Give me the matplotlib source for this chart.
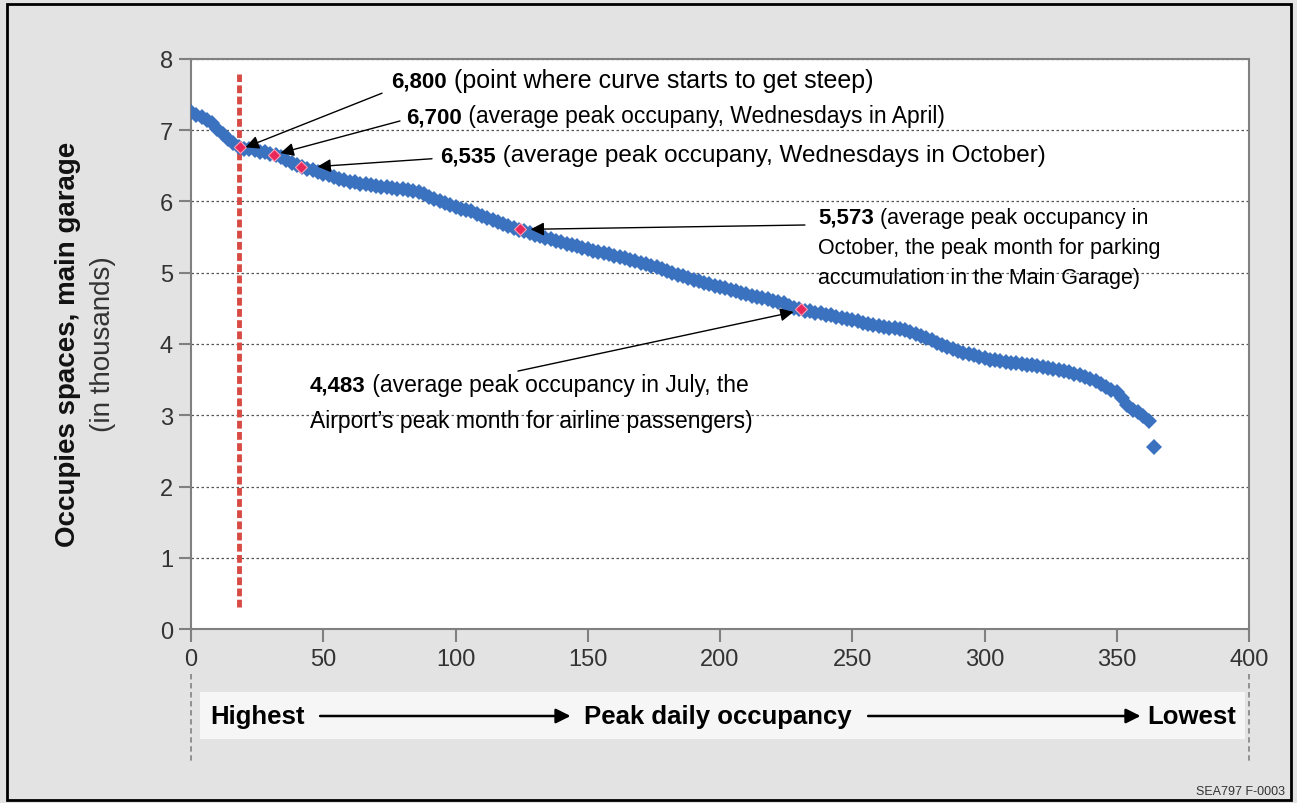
import matplotlib
matplotlib.use("Agg")
import matplotlib.pyplot as plt
import matplotlib.transforms as mtransforms
import numpy as np
from matplotlib.patches import Rectangle

plt.rcParams["font.family"] = ["Liberation Sans", "DejaVu Sans"]

# Peak daily occupancy (thousands), days sorted highest -> lowest, read every 2nd day
DAY_STEP = 2
OCCUPANCY = [
    7.26, 7.21, 7.18, 7.15, 7.10, 7.02, 6.95, 6.88, 6.82, 6.77,
    6.74, 6.73, 6.72, 6.70, 6.69, 6.67, 6.65, 6.62, 6.58, 6.54,
    6.51, 6.48, 6.46, 6.44, 6.41, 6.39, 6.37, 6.34, 6.32, 6.30,
    6.28, 6.27, 6.25, 6.24, 6.23, 6.22, 6.21, 6.20, 6.19, 6.18,
    6.17, 6.16, 6.15, 6.13, 6.10, 6.06, 6.03, 6.01, 5.98, 5.95,
    5.92, 5.90, 5.88, 5.86, 5.83, 5.80, 5.77, 5.74, 5.71, 5.68,
    5.66, 5.63, 5.60, 5.58, 5.56, 5.53, 5.51, 5.49, 5.47, 5.45,
    5.43, 5.41, 5.39, 5.37, 5.35, 5.33, 5.31, 5.29, 5.28, 5.26,
    5.24, 5.22, 5.20, 5.18, 5.16, 5.14, 5.12, 5.10, 5.08, 5.05,
    5.03, 5.00, 4.97, 4.95, 4.92, 4.90, 4.88, 4.86, 4.84, 4.82,
    4.80, 4.78, 4.76, 4.74, 4.72, 4.70, 4.68, 4.66, 4.65, 4.63,
    4.61, 4.59, 4.57, 4.54, 4.51, 4.49, 4.47, 4.46, 4.44, 4.43,
    4.41, 4.40, 4.38, 4.37, 4.35, 4.34, 4.32, 4.30, 4.28, 4.26,
    4.25, 4.24, 4.23, 4.22, 4.21, 4.19, 4.17, 4.14, 4.11, 4.08,
    4.05, 4.02, 3.99, 3.96, 3.93, 3.90, 3.88, 3.86, 3.84, 3.82,
    3.80, 3.78, 3.77, 3.76, 3.75, 3.74, 3.73, 3.72, 3.71, 3.70,
    3.69, 3.68, 3.67, 3.65, 3.64, 3.62, 3.60, 3.58, 3.56, 3.54,
    3.51, 3.48, 3.44, 3.40, 3.36, 3.32, 3.24, 3.14, 3.08, 3.04,
    2.99, 2.92, 2.56,
]

# highlighted points
HIGHLIGHT_DAYS = [18.5, 31.5, 41.5, 124.5, 230.5]
HIGHLIGHT_VALUES = [6.76, 6.65, 6.48, 5.61, 4.49]
HIGHLIGHT_LABELS = ["6,800", "6,700", "6,535", "5,573", "4,483"]
HIGHLIGHT_NOTES = [
    "(point where curve starts to get steep)",
    "(average peak occupany, Wednesdays in April)",
    "(average peak occupany, Wednesdays in October)",
    "(average peak occupancy in\nOctober, the peak month for parking\naccumulation in the Main Garage)",
    "(average peak occupancy in July, the\nAirport\u2019s peak month for airline passengers)",
]
LABEL_SIZE = 16
NOTE_SIZES = [18, 16.5, 17.5, 15.5, 16.5]
NOTE_LINE_GAP = [0, 0, 0, 21.6, 25.9]  # points between lines
# where the note text starts (day, thousands) and where its arrow leaves
NOTE_POS = [(75.6, 7.69), (81.3, 7.19), (94.1, 6.64), (237.0, 5.78), (45.0, 3.42)]
ARROW_TAIL = [(72.2, 7.52), (79.0, 7.13), (91.1, 6.60), (232.1, 5.67), (123.6, 3.62)]
ARROW_HEAD = [(20.6, 6.76), (33.8, 6.68), (47.8, 6.49), (128.4, 5.61), (227.8, 4.45)]

STEEP_DAY = 18.1
X_TICKS = [0, 50, 100, 150, 200, 250, 300, 350, 400]
Y_TICKS = [0, 1, 2, 3, 4, 5, 6, 7, 8]

BLUE = "#3a72bf"
RED = "#e8285a"


def main():
    fig = plt.figure(figsize=(12.97, 8.04), dpi=100, facecolor="#e3e3e3")
    fig.patches.append(Rectangle((0.0054, 0.004), 0.9898, 0.9898, transform=fig.transFigure,
                                 fill=False, edgecolor="black", linewidth=2))
    ax = fig.add_axes([0.1473, 0.2164, 0.8157, 0.709])
    ax.set_facecolor("white")

    days = np.arange(len(OCCUPANCY)) * DAY_STEP
    ax.plot(days, OCCUPANCY, linestyle="none", marker="D", markersize=8.5,
            color=BLUE, markeredgewidth=0, zorder=3)
    ax.plot(HIGHLIGHT_DAYS, HIGHLIGHT_VALUES, linestyle="none", marker="D", markersize=6,
            markerfacecolor=RED, markeredgecolor="#ff9db4", markeredgewidth=0.8, zorder=4)

    ax.plot([STEEP_DAY, STEEP_DAY], [0.31, 7.79], color="#d84a44", linewidth=3.5,
            dashes=(1.6, 0.7), zorder=2)

    for label, note, size, gap, pos, tail, head in zip(
            HIGHLIGHT_LABELS, HIGHLIGHT_NOTES, NOTE_SIZES, NOTE_LINE_GAP,
            NOTE_POS, ARROW_TAIL, ARROW_HEAD):
        lines = note.split("\n")
        bold = ax.text(pos[0], pos[1], label, fontsize=LABEL_SIZE, fontweight="bold",
                       va="center", ha="left", zorder=5)
        ax.annotate(" " + lines[0], xy=(1, 0), xycoords=bold, va="bottom", ha="left",
                    fontsize=size, zorder=5)
        for k, line in enumerate(lines[1:], start=1):
            ax.annotate(line, xy=(0, 0), xycoords=bold,
                        xytext=(0, -k * gap), textcoords="offset points",
                        va="bottom", ha="left", fontsize=size, zorder=5)
        ax.annotate("", xy=head, xytext=tail,
                    arrowprops=dict(arrowstyle="-|>", color="black", lw=1.0,
                                    mutation_scale=20, shrinkA=0, shrinkB=0), zorder=5)

    ax.set_xlim(0, 400)
    ax.set_ylim(0, 8)
    ax.set_xticks(X_TICKS)
    ax.set_yticks(Y_TICKS)
    ax.yaxis.grid(True, linestyle=(0, (2, 2)), color="#555555", linewidth=0.9)
    ax.set_axisbelow(True)
    for spine in ax.spines.values():
        spine.set_color("#808080")
        spine.set_linewidth(1.5)
    ax.tick_params(axis="both", colors="#808080", length=9, width=1.5,
                   labelsize=17, labelcolor="#333333")
    ax.tick_params(axis="y", pad=4)
    ax.tick_params(axis="x", pad=5)

    fig.text(0.0524, 0.572, "Occupies spaces, main garage", rotation=90, fontsize=20,
             fontweight="bold", ha="center", va="center", color="#111111")
    fig.text(0.0794, 0.572, "(in thousands)", rotation=90, fontsize=20,
             ha="center", va="center", color="#333333")

    # ranking band under the axis
    trans = mtransforms.blended_transform_factory(ax.transData, ax.transAxes)
    ax.add_patch(Rectangle((3.4, -0.193), 395.1, 0.0825, transform=trans, facecolor="white",
                           alpha=0.7, edgecolor="none", clip_on=False))
    for xv in (0, 400):
        ax.plot([xv, xv], [-0.079, -0.235], transform=trans, color="#8a8a8a", lw=1.3,
                linestyle=(0, (3, 2)), clip_on=False)
    band_y = -0.1526
    ax.text(7.2, band_y, "Highest", transform=trans, fontsize=18.5, fontweight="bold",
            va="center", ha="left")
    ax.text(199.0, band_y, "Peak daily occupancy", transform=trans, fontsize=18.5,
            fontweight="bold", va="center", ha="center")
    ax.text(395.0, band_y, "Lowest", transform=trans, fontsize=18.5, fontweight="bold",
            va="center", ha="right")
    for x0, x1 in ((48.8, 143.5), (256.0, 359.0)):
        ax.annotate("", xy=(x1, band_y), xytext=(x0, band_y), xycoords=trans,
                    textcoords=trans,
                    arrowprops=dict(arrowstyle="-|>", color="black", lw=1.8,
                                    mutation_scale=22, shrinkA=0, shrinkB=0),
                    annotation_clip=False)

    fig.text(0.9907, 0.015, "SEA797 F-0003", fontsize=9, ha="right", va="center",
             color="#333333")

    fig.savefig("out.png", dpi=100, facecolor=fig.get_facecolor())
    plt.close(fig)


if __name__ == "__main__":
    main()
